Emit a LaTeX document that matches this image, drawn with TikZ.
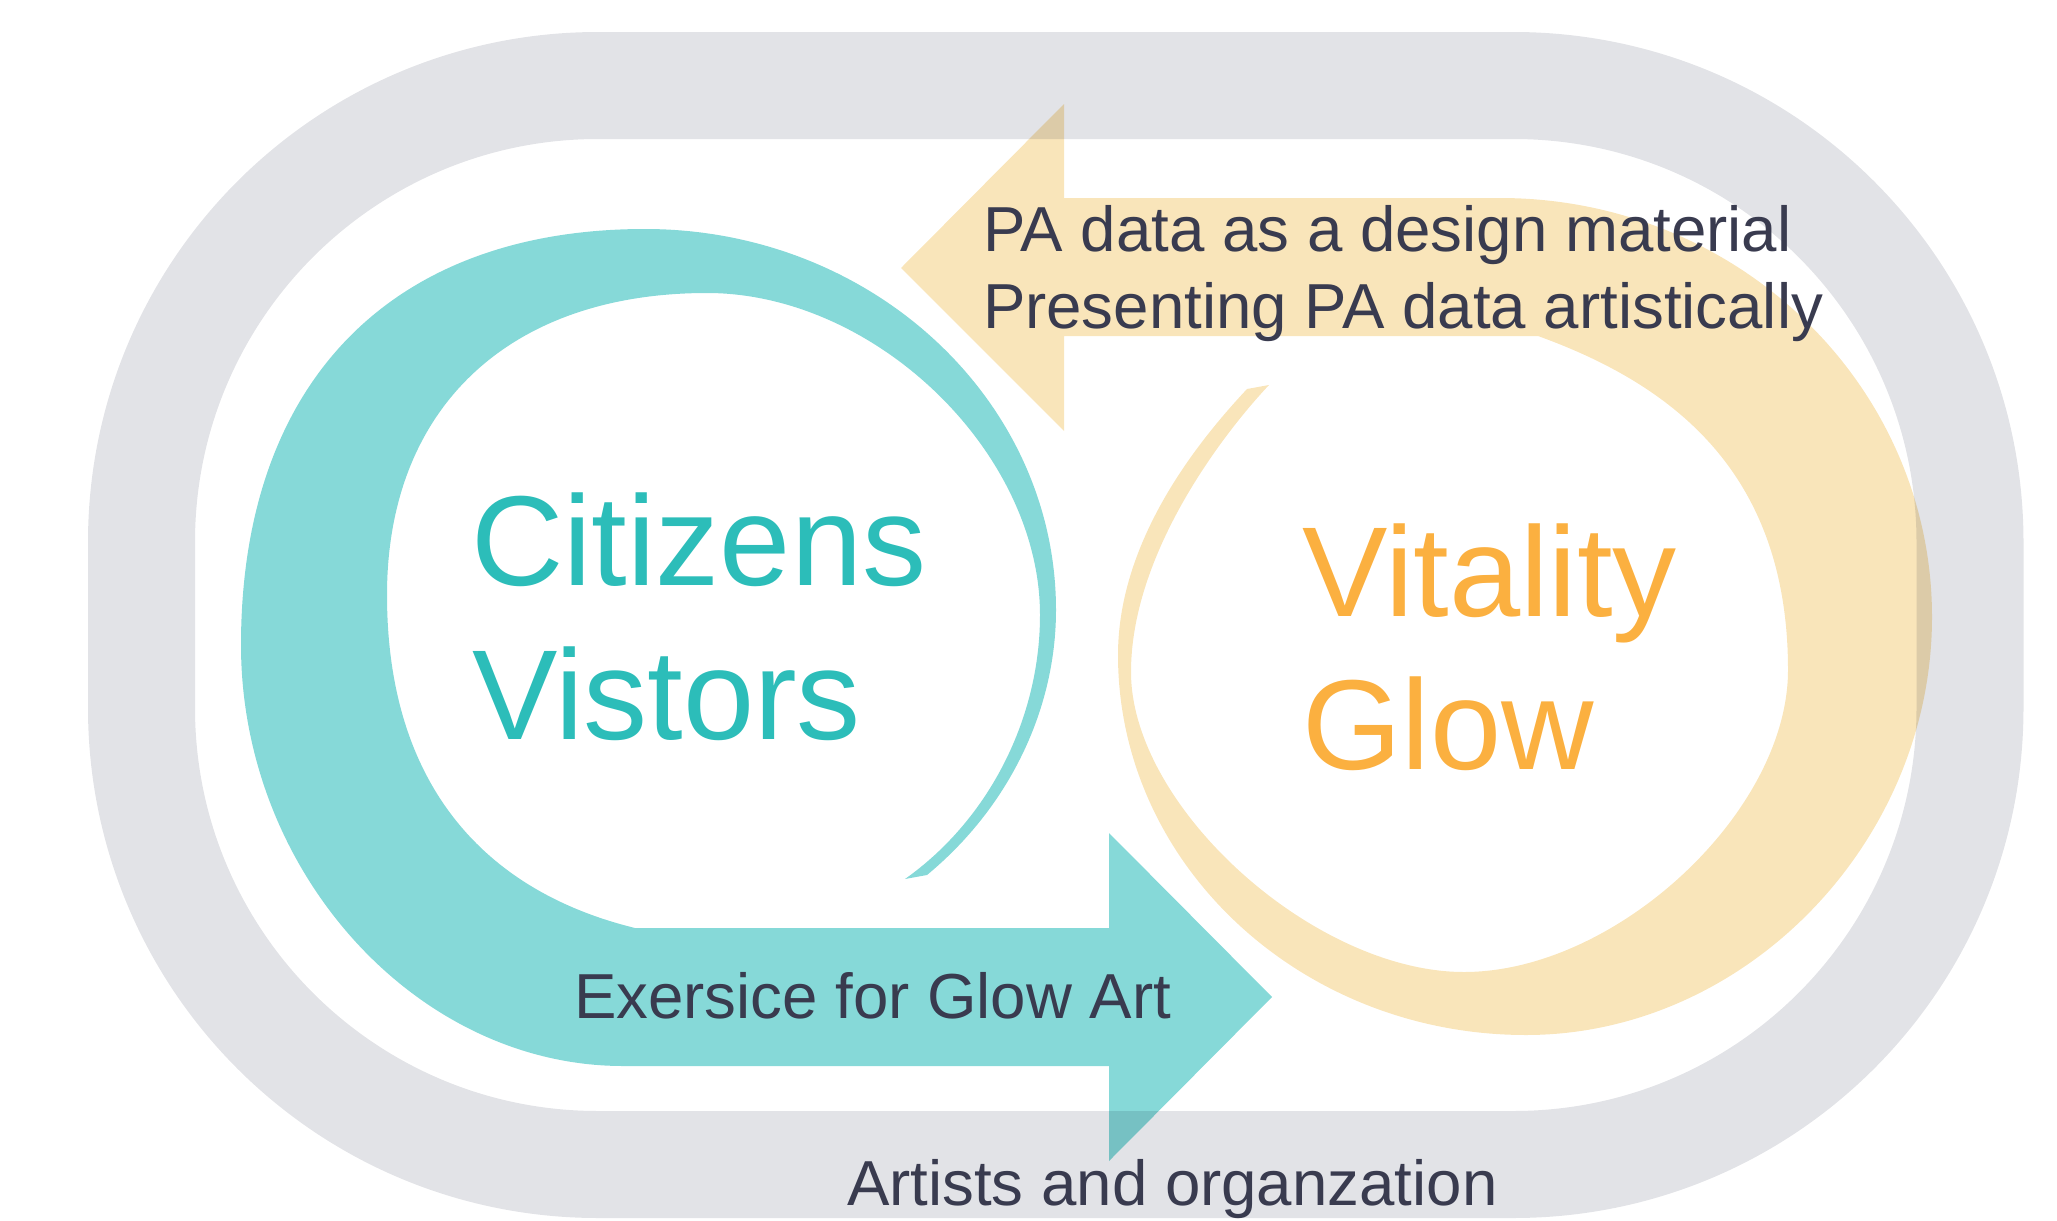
\documentclass[tikz,border=0pt]{standalone}
\usepackage{fontspec}
\setmainfont{Liberation Sans}
\definecolor{ringgray}{HTML}{E2E3E7}
\definecolor{tealfill}{HTML}{86D9D8}
\definecolor{orangefill}{HTML}{F9E5BA}
\definecolor{tealtext}{HTML}{2CBDB9}
\definecolor{orangetext}{HTML}{FBB040}
\definecolor{darktext}{HTML}{393B4F}
\tikzset{
  bigtxt/.style={anchor=base west, inner sep=0pt, outer sep=0pt, font=\fontsize{64pt}{76pt}\selectfont},
  smalltxt/.style={anchor=base west, inner sep=0pt, outer sep=0pt, text=darktext, font=\fontsize{31.8pt}{38pt}\selectfont},
}
\begin{document}
\begin{tikzpicture}[x=0.5pt,y=-0.5pt]
\useasboundingbox (0,0) rectangle (2057,1221);
% gray stadium ring
\draw[line width=53.5pt, color=ringgray, rounded corners=228.25pt] (141.5,85.5) rectangle (1970,1164.5);
\begin{scope}[blend mode=multiply]
% teal spiral arrow
\fill[tealfill] (1109,1066) -- (623,1066)
  .. controls (416.7,1066) and (241,872.3) .. (241,645)
  .. controls (241,383) and (390.5,229) .. (645,229)
  .. controls (872,229) and (1056,400) .. (1056,610)
  .. controls (1056,709) and (1009.5,806.8) .. (927,875)
  -- (905,879)
  .. controls (989.8,818.9) and (1040,717.4) .. (1040,615)
  .. controls (1040,452) and (875,293) .. (707,293)
  .. controls (509,293) and (387,408) .. (387,595)
  .. controls (387,780) and (480,890) .. (635,928)
  -- (1109,928) -- (1109,833) -- (1272,997) -- (1109,1161) -- cycle;
% orange spiral arrow
\fill[orangefill] (1064,198) -- (1500,198)
  .. controls (1738.5,198) and (1932,385.7) .. (1932,617)
  .. controls (1932,842.7) and (1745,1035) .. (1526,1035)
  .. controls (1301,1035) and (1118,864.8) .. (1118,655)
  .. controls (1118,535) and (1206,433) .. (1247,389)
  -- (1269,385)
  .. controls (1221,436) and (1131,555) .. (1131,672)
  .. controls (1131,807) and (1314,972) .. (1464,972)
  .. controls (1616,972) and (1788,812) .. (1788,670)
  .. controls (1788,470) and (1669.6,383.6) .. (1538,336)
  -- (1064,336) -- (1064,431) -- (901,268) -- (1064,104) -- cycle;
\end{scope}
% texts
\node[bigtxt, text=tealtext] (citizens) at (471,585) {Citizens};
\node[bigtxt, text=tealtext] (visitors) at (472,739) {Vistors};
\node[bigtxt, text=orangetext] (vitality) at (1302,616) {Vitality};
\node[bigtxt, text=orangetext] (glow) at (1302,769) {Glow};
\node[smalltxt] (padata) at (983,251) {PA data as a design material};
\node[smalltxt] (presenting) at (983,328) {Presenting PA data artistically};
\node[smalltxt] (exercise) at (574,1018) {Exersice for Glow Art};
\node[smalltxt] (artists) at (847,1205) {Artists and organzation};
\end{tikzpicture}
\end{document}
